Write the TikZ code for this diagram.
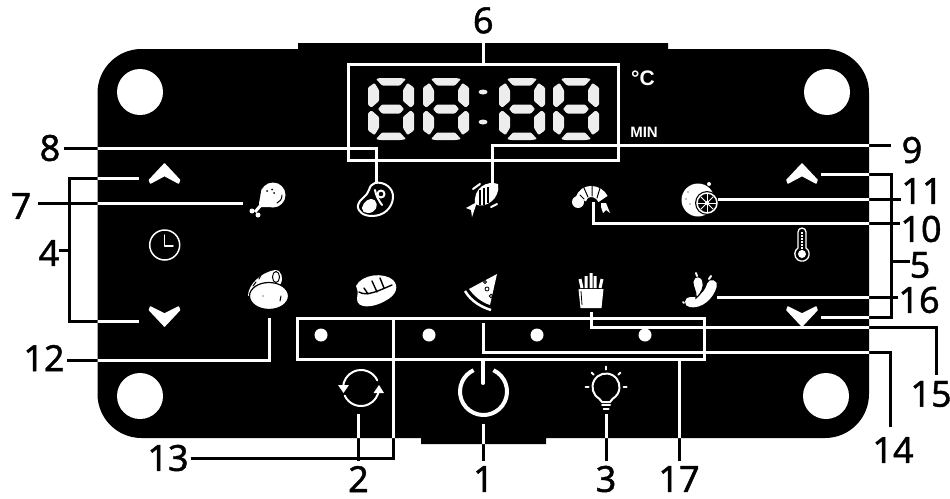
\documentclass[tikz,border=0pt]{standalone}
\usepackage{fontspec}
\newfontfamily\labfont[FakeBold=1.2]{Noto Sans}
\newfontfamily\panelfont{Liberation Sans}
\usetikzlibrary{calc}

\definecolor{segwhite}{gray}{0.93}

\tikzset{
  lab/.style={font=\labfont\fontsize{36}{36}\selectfont, inner xsep=0pt, inner ysep=5pt},
  iconbox/.style={inner sep=0pt},
  leadblack/.style={draw=black, line width=3pt},
  leadwhite/.style={draw=white, line width=3pt},
  framebox/.style={draw=white, line width=3pt, inner sep=0pt},
  chevron/.style={fill=white, draw=white, line width=1.5pt, line join=round},
  iconline/.style={draw=white, line width=2pt, line cap=round, line join=round},
  cutline/.style={draw=black, line width=1pt, line cap=round},
  sevenseg/.pic={
    \foreach \sx/\ox in {1/0,-1/46} \foreach \sy/\oy in {1/0,-1/62}
      \fill[segwhite, rounded corners=1pt, shift={(\ox,\oy)}, xscale=\sx, yscale=\sy]
        (0,9.5) -- (6.5,5) -- (11,12) -- (11,23) -- (3.5,29.5) -- (0,27) -- cycle;
    \foreach \sy/\oy in {1/0,-1/62}
      \fill[segwhite, rounded corners=1pt, shift={(0,\oy)}, yscale=\sy]
        (8,1) -- (12,0) -- (33,0) -- (38,1) -- (32,7.5) -- (14,7.5) -- cycle;
    \fill[segwhite, rounded corners=1pt]
      (10,31) -- (14,26.5) -- (32,26.5) -- (36,31) -- (32,35.5) -- (14,35.5) -- cycle;
  }
}

\newcommand{\panelpath}{(141.5,49) -- (298,49) -- (298,43) -- (668,43) -- (668,49) -- (825,49)
  arc[start angle=-90, end angle=0, radius=44] -- (869,394)
  arc[start angle=0, end angle=90, radius=44] -- (546,438) -- (546,444) -- (421,444) -- (421,438) -- (141.5,438)
  arc[start angle=90, end angle=180, radius=44] -- (97.5,93)
  arc[start angle=180, end angle=270, radius=44] -- cycle}
\newcommand{\leadline}[1]{%
  \draw[leadblack] #1;
  \begin{scope}
    \clip \panelpath;
    \draw[leadwhite] #1;
  \end{scope}}

\begin{document}
\begin{tikzpicture}[x=1pt, y=-1pt]
  \useasboundingbox (0,0) rectangle (950,498);

  % Panel
  \fill[black] \panelpath;
  \foreach \hx/\hy in {140/92,827/92,140/396,826/396}
    \fill[white] (\hx,\hy) circle (23);

  % Display
  \node[framebox, minimum width=269.5pt, minimum height=96pt] (disp) at (483.25,112) {};
  \foreach \dx in {368,423,499,553}
    \pic at (\dx,78) {sevenseg};
  \fill[segwhite] (483,92) ellipse (4.5 and 2.5);
  \fill[segwhite] (483,122) ellipse (4.5 and 2.5);
  \node[iconbox, text=white, font=\panelfont\bfseries\fontsize{21}{21}\selectfont] (celsius) at (643,78) {°C};
  \node[iconbox, text=white, font=\panelfont\bfseries\fontsize{15}{15}\selectfont] (minutes) at (644,132) {MIN};

  % Mode lamps
  \node[framebox, minimum width=407pt, minimum height=41pt] (modebox) at (500.5,338.5) {};
  \foreach \lx in {321,429,537,645}
    \fill[white] (\lx,335) circle (6.5);

  % Icon anchors
  \node[iconbox, minimum width=51pt] (upL) at (164.5,178) {};
  \node[iconbox, minimum width=51pt] (downL) at (164.5,321) {};
  \node[iconbox, minimum width=38pt] (upR) at (802,174) {};
  \node[iconbox, minimum width=38pt] (downR) at (802,317) {};
  \node[iconbox, minimum width=46pt] (chicken) at (266,203) {};
  \node[iconbox, minimum height=34pt] (steak) at (376,200) {};
  \node[iconbox, minimum height=30pt] (fish) at (492,200) {};
  \node[iconbox, minimum height=18pt] (shrimp) at (593,193) {};
  \node[iconbox, minimum width=36pt] (lemon) at (700,199) {};
  \node[iconbox, minimum height=56pt] (meat) at (269.5,290) {};
  \node[iconbox, minimum height=62pt] (pizza) at (483,292) {};
  \node[iconbox, minimum height=40pt] (fries) at (591,292) {};
  \node[iconbox, minimum width=34pt] (sausage) at (700,297) {};
  \node[iconbox, minimum height=52pt] (refresh) at (358.5,388) {};
  \node[iconbox, minimum height=66pt] (power) at (483.5,391) {};
  \node[iconbox, minimum height=52pt] (bulb) at (606,388) {};

  % Chevrons
  \foreach \cx in {164.5,802} {
    \fill[chevron] (\cx,164) -- (\cx+15,180) -- (\cx+14,183) -- (\cx,175.5) -- (\cx-14,183) -- (\cx-15,180) -- cycle;
    \fill[chevron] (\cx,326) -- (\cx+15,310) -- (\cx+14,307) -- (\cx,314) -- (\cx-14,307) -- (\cx-15,310) -- cycle;
  }

  % Clock
  \draw[iconline, line width=1.5pt] (164.7,245) circle (15);
  \draw[iconline, line width=1.5pt] (164.7,235) -- (164.7,246) -- (173,246);

  % Thermometer
  \draw[iconline, line width=1.3pt] (798,248) -- (798,232) arc[start angle=180, end angle=360, radius=4]
    -- (806,248) arc[start angle=-56, end angle=236, radius=7.2];
  \fill[white] (802,254) circle (4);
  \draw[white, line width=2pt, dash pattern=on 2pt off 1pt] (802,232) -- (802,251);

  % Chicken
  \fill[white] (273,195) circle (12.5);
  \fill[white] (262,188) -- (272,207) -- (259,207) -- (259,203) -- cycle;
  \draw[white, line width=3pt] (261,205) -- (255,212);
  \fill[white] (252,211) circle (2.5) (258,215) circle (2.5);
  \fill[black] (267,191) circle (1) (272,189.5) circle (1) (274,193) circle (1);
  \draw[cutline] (282,195) .. controls (282,199) and (280,202) .. (277,203);

  % Steak
  \draw[iconline, fill=black] (375,183) .. controls (384,181) and (394,188) .. (393,198)
    .. controls (392,208) and (384,216) .. (372,216) .. controls (364,216) and (357,212) .. (358,205)
    .. controls (359,199) and (367,197) .. (369,190) .. controls (370,186) and (372,184) .. (375,183) -- cycle;
  \draw[iconline, fill=white] (363,208) .. controls (364,202) and (371,198) .. (374,201)
    .. controls (378,205) and (375,212) .. (368,212) .. controls (365,212) and (363,211) .. (363,208);
  \draw[iconline] (381,194) circle (3.5);
  \draw[iconline] (375,190) .. controls (376,196) and (379,201) .. (382,205);

  % Fish
  \fill[white] (498,184) .. controls (487,180) and (473,188) .. (475,204)
    .. controls (485,210) and (501,198) .. (498,184) -- cycle;
  \fill[white] (477,202) -- (466,208) -- (471,210) -- (472,217) -- cycle;
  \draw[black, line width=1.4pt] (480,190) -- (480,205) (484,188) -- (484,205) (488,187) -- (488,203);
  \draw[iconline] (473,189) -- (480,184) (491,207) -- (497,204);

  % Shrimp
  \draw[white, line width=11pt] (581,199) .. controls (584,189) and (598,189) .. (603,199);
  \fill[white] (578,202) circle (6);
  \draw[cutline] (584,188) -- (588,197) (592,185) -- (592,196) (600,188) -- (597,198);
  \draw[cutline] (580,195) -- (584,199);
  \fill[white] (601,203) -- (606,203) -- (610,213) -- (606,210) -- (603,213) -- (601,207) -- cycle;

  % Lemon
  \fill[white] (698,200) circle (16.5);
  \fill[white] (709,184) circle (2);
  \fill[black] (707,203) circle (12);
  \draw[white, line width=1.5pt] (707,203) circle (10);
  \foreach \ang in {0,45,...,315}
    \draw[white, line width=1pt] (707,203) -- ++(\ang:9);
  \fill[white] (707,203) circle (2);
  \fill[black] (686,199) circle (.6) (690,204) circle (.6) (688,192) circle (.6);

  % Meat
  \fill[white] (248,296) .. controls (248,284) and (262,272) .. (275,270)
    .. controls (282,270) and (284,279) .. (280,285) -- (262,294) -- cycle;
  \draw[cutline] (276,277) ellipse (3.5 and 5.5);
  \draw[cutline] (253,286) -- (256,282) (259,279) -- (261,275);
  \draw[black, line width=1.2pt, fill=white] (269,296) ellipse (19.5 and 13.5);
  \draw[cutline] (281,296) -- (280,301);
  \fill[black] (263,296) circle (.7);

  % Bread
  \fill[white] (356,286) .. controls (362,274) and (384,272) .. (393,280)
    .. controls (399,286) and (397,295) .. (385,301) .. controls (373,308) and (357,309) .. (357,299)
    .. controls (357,295) and (359,292) .. (356,286) -- cycle;
  \draw[black, line width=1.4pt, line cap=round] (359,292) .. controls (367,297) and (380,290) .. (392,285);
  \draw[black, line width=1.4pt, line cap=round] (364,288) -- (368,294) (372,281) -- (377,292) (380,278) -- (384,288);

  % Pizza
  \fill[white] (497,274) -- (469,289) .. controls (474,296) and (481,302) .. (490,305) -- cycle;
  \draw[white, line width=2.5pt] (465,291) .. controls (471,301) and (481,307) .. (491,310);
  \draw[black, line width=.8pt] (487,289) circle (2) (491,296) circle (1.8) (485,282) circle (1.5);

  % Fries
  \draw[white, line width=3pt] (582,288) -- (580,279) (586,288) -- (586,276) (591,288) -- (591,273)
    (595,288) -- (595,276) (600,288) -- (602,279);
  \fill[white] (578.5,289) -- (603.5,289) -- (601.5,308) -- (580.5,308) -- cycle;
  \draw[black, line width=.8pt] (581,291) -- (582,305);

  % Sausage
  \draw[white, line width=10pt, line cap=round] (690,302) .. controls (699,304) and (709,296) .. (712,285);
  \draw[black, line width=1.2pt, fill=white] (693,281) .. controls (694,275) and (702,275) .. (703,282)
    .. controls (704,287) and (702,293) .. (696,298) .. controls (697,291) and (692,287) .. (693,281) -- cycle;
  \draw[iconline] (696,273) -- (697,276) (711,276) -- (709,279) (683,302) -- (684,303);

  % Refresh
  \draw[iconline] (361,388) ++(-25:18) arc[start angle=-25, end angle=-178, radius=18];
  \draw[iconline] (361,388) ++(155:18) arc[start angle=155, end angle=2, radius=18];
  \fill[white] (338,385) -- (349,385) -- (343.5,393) -- cycle;
  \fill[white] (373.5,393) -- (384,393) -- (379,385) -- cycle;

  % Power
  \draw[white, line width=4pt] (483.5,391.5) ++(-65:23.5) arc[start angle=-65, end angle=245, radius=23.5];
  \draw[white, line width=4pt, line cap=round] (483,361) -- (483,383);

  % Bulb
  \draw[iconline] (606,387) ++(120:13.5) arc[start angle=120, end angle=420, radius=13.5] -- (610,402) -- (602,402) -- cycle;
  \draw[iconline] (602,405) -- (610,405) (603.5,408.5) -- (608.5,408.5);
  \foreach \ang in {180,225,270,315,360}
    \draw[iconline] (606,387) ++(\ang:17.5) -- ++(\ang:3);

  % Labels
  \node[lab, inner ysep=9.5pt] (lab6) at (483.25,20.5) {6};
  \node[lab, inner xsep=4pt] (lab8) at (50,148) {8};
  \node[lab, inner xsep=7pt] (lab7) at (21,206) {7};
  \node[lab] (lab4) at (49,253) {4};
  \node[lab, inner xsep=2pt] (lab12) at (44,358) {12};
  \node[lab, inner xsep=2pt] (lab13) at (168,458) {13};
  \node[lab] (lab2) at (358.5,479) {2};
  \node[lab] (lab1) at (483.5,479) {1};
  \node[lab] (lab3) at (606,479) {3};
  \node[lab] (lab17) at (679,479) {17};
  \node[lab, inner ysep=10pt] (lab14) at (893,450) {14};
  \node[lab, inner ysep=6pt] (lab15) at (931,394) {15};
  \node[lab] (lab16) at (919,300) {16};
  \node[lab] (lab5) at (920,265) {5};
  \node[lab] (lab10) at (921,229) {10};
  \node[lab] (lab11) at (922,191) {11};
  \node[lab, inner xsep=11pt] (lab9) at (912,150) {9};

  % Brackets and tap points
  \coordinate (br4) at (69,250);
  \coordinate (br5) at (891,261);
  \coordinate (tap13) at (393,318);
  \coordinate (k14) at (890,352);
  \coordinate (k15) at (936,327);

  % Leaders
  \leadline{(lab6.south) -- (disp.north)}
  \leadline{(lab8.east) -| (steak.north)}
  \leadline{(fish.north) |- ([yshift=5pt]lab9.west)}
  \leadline{(chicken.west) -- (chicken.west -| lab7.east)}
  \leadline{(upL.west) -- (upL.west -| br4) -- (downL.west -| br4) -- (downL.west)}
  \leadline{(br4) -- (br4 -| lab4.east)}
  \leadline{(meat.south) |- ([yshift=-2pt]lab12.east)}
  \leadline{(lab13.east) -| (tap13)}
  \leadline{(refresh.south) -- (lab2.north)}
  \leadline{(power.south) -- (lab1.north)}
  \leadline{(bulb.south) -- (lab3.north)}
  \leadline{(modebox.south -| lab17) -- (lab17.north)}
  \leadline{(pizza.south) |- (k14) -- (k14 |- lab14.north)}
  \leadline{(fries.south) |- (k15) -- (k15 |- lab15.north)}
  \leadline{(sausage.east) -- (sausage.east -| lab16.west)}
  \leadline{(shrimp.south) |- ([yshift=6pt]lab10.west)}
  \leadline{(lemon.east) -- (lemon.east -| lab11.west)}
  \leadline{(upR.east) -- (upR.east -| br5) -- (downR.east -| br5) -- (downR.east)}
  \leadline{(br5) -- (br5 -| lab5.west)}
\end{tikzpicture}
\end{document}
